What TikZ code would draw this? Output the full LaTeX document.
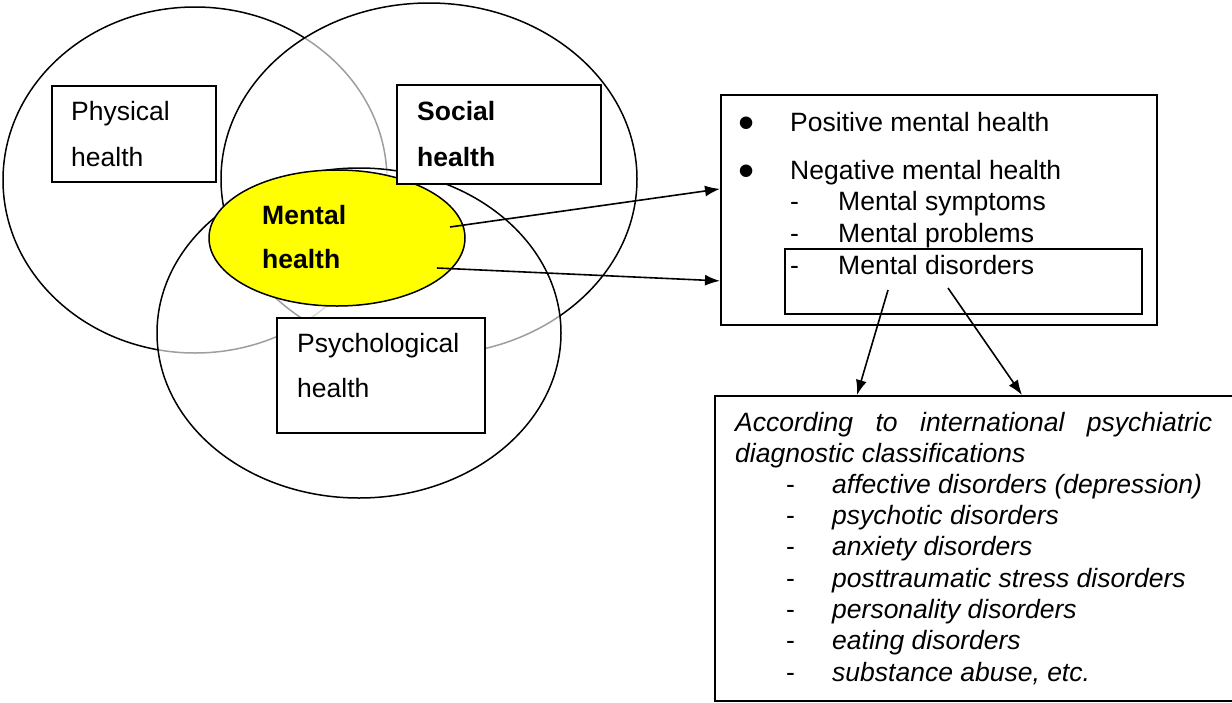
\documentclass[tikz,border=0pt]{standalone}
\usepackage{fontspec}
\setmainfont{Liberation Sans}
\usetikzlibrary{shapes.geometric,arrows.meta}
\definecolor{mhyellow}{RGB}{255,255,0}
\begin{document}
\begin{tikzpicture}[x=1pt,y=-1pt,
  lbl/.style={anchor=base west,inner sep=0pt,font=\fontsize{26.5}{32}\selectfont},
  ilbl/.style={anchor=base west,inner sep=0pt,font=\fontsize{26.5}{32}\selectfont\itshape},
  blbl/.style={anchor=base west,inner sep=0pt,font=\fontsize{26.5}{32}\selectfont\bfseries},
  bullet/.style={anchor=center,inner sep=0pt,font=\fontsize{46}{46}\selectfont},
  frame/.style={draw,line width=1.8pt,fill=white,inner sep=0pt,anchor=north west},
  area/.style={draw,ellipse,line width=1.5pt,inner sep=0pt,fill=white,fill opacity=0.62},
  arr/.style={line width=1.6pt,-{Latex[length=15pt,width=11pt]}}]
\useasboundingbox (0,0) rectangle (1232,702);
\clip (0,0) rectangle (1232,702);

% three overlapping health domains; upper layers let lower outlines show faintly
\node[area,fill opacity=1,minimum width=384pt,minimum height=346pt] (phys) at (195,180) {};
\node[area,minimum width=416pt,minimum height=352pt] (soc) at (429,179) {};
\node[area,minimum width=404pt,minimum height=330pt] (psy) at (359,333) {};

% mental health at the centre
\node[draw,ellipse,line width=1.5pt,fill=mhyellow,inner sep=0pt,
      minimum width=256pt,minimum height=136pt] (mh) at (337,238) {};
\node[blbl] (mh1) at (262,224) {Mental};
\node[blbl] (mh2) at (262,268) {health};

% domain labels
\node[frame,minimum width=164pt,minimum height=96pt] (pbox) at (51,85) {};
\node[lbl] (pt1) at (71,120) {Physical};
\node[lbl] (pt2) at (71,166) {health};

\node[frame,minimum width=204pt,minimum height=99pt] (sbox) at (396,84) {};
\node[blbl] (st1) at (417,120) {Social};
\node[blbl] (st2) at (417,166) {health};

\node[frame,minimum width=208pt,minimum height=115pt] (ybox) at (276,317) {};
\node[lbl] (yt1) at (297,352) {Psychological};
\node[lbl] (yt2) at (297,397) {health};

% positive / negative mental health
\node[frame,minimum width=436pt,minimum height=230pt] (rbox) at (720,94) {};
\node[bullet] (b1) at (747,128) {•};
\node[lbl] (r1) at (790,131) {Positive mental health};
\node[bullet] (b2) at (747,176) {•};
\node[lbl] (r2) at (790,179) {Negative mental health};
\node[lbl] (d1) at (790,210) {-};
\node[lbl] (r3) at (838,210) {Mental symptoms};
\node[lbl] (d2) at (790,242) {-};
\node[lbl] (r4) at (838,242) {Mental problems};
\node[lbl] (d3) at (790,274) {-};
\node[lbl] (r5) at (838,274) {Mental disorders};
\node[draw,line width=1.8pt,inner sep=0pt,anchor=north west,
      minimum width=357pt,minimum height=65pt] (dbox) at (784,248) {};

% diagnostic classifications
\node[frame,minimum width=531pt,minimum height=305pt] (cbox) at (714,395) {};
\node[ilbl] (c0) at (735,431) {\makebox[477pt][s]{According to international psychiatric}};
\node[ilbl] (c1) at (735,462) {diagnostic classifications};
\foreach \t [count=\i] in {affective disorders (depression),psychotic disorders,anxiety disorders,posttraumatic stress disorders,personality disorders,eating disorders,{substance abuse, etc.}}{
  \node[lbl] (cd\i) at (786,462+31.3*\i) {-};
  \node[ilbl] (ci\i) at (832,462+31.3*\i) {\t};
}

% connectors
\coordinate (m1) at (450,227);
\coordinate (m2) at (437,268);
\coordinate (s1) at (888,290);
\coordinate (s2) at (948,288);
\draw[arr] (m1) -- ([yshift=21pt]rbox.west);
\draw[arr] (m2) -- ([yshift=-71pt]rbox.west);
\draw[arr] (s1) -- ([xshift=143pt]cbox.north west);
\draw[arr] (s2) -- ([xshift=308pt]cbox.north west);
\end{tikzpicture}
\end{document}
